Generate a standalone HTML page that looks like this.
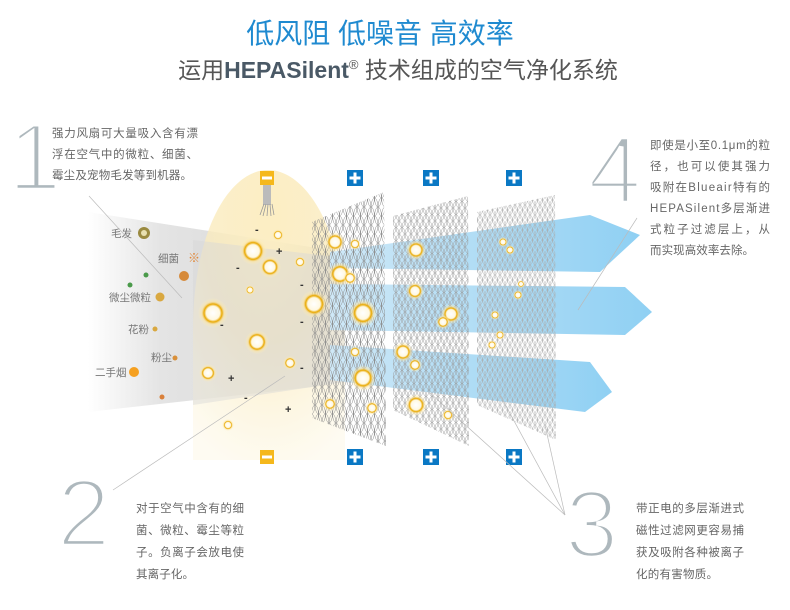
<!DOCTYPE html>
<html><head><meta charset="utf-8"><style>
body{margin:0;background:#fff;width:790px;height:610px;overflow:hidden}
svg{display:block}
.t{font-family:"Liberation Sans","Noto Sans CJK SC",sans-serif;fill:#666;font-size:11.5px}
.lb{font-family:"Liberation Sans","Noto Sans CJK SC",sans-serif;fill:#777;font-size:10.5px}
.n{font-family:"Liberation Sans",sans-serif;font-size:96px;fill:#aeb8bd;stroke:#fff;stroke-width:4.5px}
</style></head><body>
<svg width="790" height="610" viewBox="0 0 790 610" xmlns="http://www.w3.org/2000/svg">
<defs>
<linearGradient id="gb" x1="0" x2="1"><stop offset="0" stop-color="#fff"/><stop offset="0.3" stop-color="#e4e4e4"/><stop offset="1" stop-color="#d6d6d6"/></linearGradient>
<linearGradient id="bl" x1="0" x2="1"><stop offset="0" stop-color="#cfe8f7"/><stop offset="1" stop-color="#8fd0f3"/></linearGradient>
<radialGradient id="yl" cx="0.5" cy="0.15" r="0.9"><stop offset="0" stop-color="#fbe9b0"/><stop offset="0.5" stop-color="#f8e2a0" stop-opacity="0.7"/><stop offset="1" stop-color="#fdf5dc" stop-opacity="0.5"/></radialGradient>
<radialGradient id="pt"><stop offset="0" stop-color="#fff"/><stop offset="0.45" stop-color="#fff8e0"/><stop offset="0.6" stop-color="#e9a800"/><stop offset="0.75" stop-color="#fbe3a0" stop-opacity="0.6"/><stop offset="1" stop-color="#fff3c0" stop-opacity="0"/></radialGradient>
<pattern id="m1" width="7" height="18" patternUnits="userSpaceOnUse"><g fill="none" stroke="#8a8a8a" stroke-width="0.5"><ellipse cx="3.5" cy="9" rx="3.4" ry="8.9"/><ellipse cx="0" cy="0" rx="3.4" ry="8.9"/><ellipse cx="7" cy="0" rx="3.4" ry="8.9"/><ellipse cx="0" cy="18" rx="3.4" ry="8.9"/><ellipse cx="7" cy="18" rx="3.4" ry="8.9"/></g></pattern>
<pattern id="m2" width="6" height="13" patternUnits="userSpaceOnUse"><g fill="none" stroke="#9a9a9a" stroke-width="0.45"><ellipse cx="3" cy="6.5" rx="2.9" ry="6.4"/><ellipse cx="0" cy="0" rx="2.9" ry="6.4"/><ellipse cx="6" cy="0" rx="2.9" ry="6.4"/><ellipse cx="0" cy="13" rx="2.9" ry="6.4"/><ellipse cx="6" cy="13" rx="2.9" ry="6.4"/></g></pattern>
<pattern id="m3" width="5" height="10" patternUnits="userSpaceOnUse"><g fill="none" stroke="#aaa" stroke-width="0.4"><ellipse cx="2.5" cy="5" rx="2.4" ry="4.9"/><ellipse cx="0" cy="0" rx="2.4" ry="4.9"/><ellipse cx="5" cy="0" rx="2.4" ry="4.9"/><ellipse cx="0" cy="10" rx="2.4" ry="4.9"/><ellipse cx="5" cy="10" rx="2.4" ry="4.9"/></g></pattern>
<g id="pl"><rect x="-8" y="-8" width="16" height="16" fill="#0a78c4"/><rect x="-5.5" y="-1.5" width="11" height="3" fill="#fff"/><rect x="-1.5" y="-5.5" width="3" height="11" fill="#fff"/></g>
<g id="mn"><rect x="-7" y="-7" width="14" height="14" fill="#f5b81c"/><rect x="-5" y="-1.5" width="10" height="3" fill="#fff"/></g>
</defs>

<text x="380" y="43" text-anchor="middle" font-family="Liberation Sans,Noto Sans CJK SC,sans-serif" font-size="28" fill="#1f8ad0">低风阻 低噪音 高效率</text>
<text x="398" y="78" text-anchor="middle" font-family="Liberation Sans,Noto Sans CJK SC,sans-serif" font-size="23" fill="#555">运用<tspan font-weight="bold" fill="#4a5966">HEPASilent</tspan><tspan font-size="13" dy="-9">®</tspan><tspan dy="9"> 技术组成的空气净化系统</tspan></text>

<polygon points="88,212 330,250 330,385 88,412" fill="url(#gb)"/>
<path d="M193,460 L193,330 C193,230 230,170 268,170 C306,170 345,230 345,330 L345,460 Z" fill="url(#yl)"/>
<path d="M193,460 L193,330 C193,230 230,170 268,170 C306,170 345,230 345,330 L345,460 Z" fill="#fff" opacity="0.25"/>
<polygon points="193,240 345,258 345,382 193,405" fill="#d8d8d8" opacity="0.45"/>

<polygon points="330,252 590,215 640,235 600,272 330,268" fill="url(#bl)"/>
<polygon points="330,284 625,287 652,312 625,335 330,330" fill="url(#bl)"/>
<polygon points="330,345 590,362 612,392 585,412 330,380" fill="url(#bl)"/>

<polygon points="312,222 384,192 386,446 312,418" fill="url(#m1)"/>
<polygon points="393,216 468,196 469,446 393,410" fill="url(#m2)"/>
<polygon points="477,212 555,195 556,440 477,405" fill="url(#m3)"/>

<rect x="263" y="185" width="8" height="20" fill="#bbb"/>
<path d="M260,215 L264,204 M263,216 L266,204 M267,216 L268,204 M271,216 L270,204 M274,215 L272,204" stroke="#999" stroke-width="0.8"/>

<use href="#mn" x="267" y="178"/><use href="#mn" x="267" y="457"/>
<use href="#pl" x="355" y="178"/><use href="#pl" x="431" y="178"/><use href="#pl" x="514" y="178"/>
<use href="#pl" x="355" y="457"/><use href="#pl" x="431" y="457"/><use href="#pl" x="514" y="457"/>

<g fill="url(#pt)">
<circle cx="253" cy="251" r="14"/><circle cx="270" cy="267" r="11"/><circle cx="278" cy="235" r="6"/><circle cx="300" cy="262" r="6"/>
<circle cx="213" cy="313" r="15"/><circle cx="314" cy="304" r="14"/><circle cx="257" cy="342" r="12"/><circle cx="250" cy="290" r="5"/>
<circle cx="208" cy="373" r="9"/><circle cx="290" cy="363" r="7"/><circle cx="228" cy="425" r="6"/>
<circle cx="335" cy="242" r="10"/><circle cx="355" cy="244" r="6"/><circle cx="340" cy="274" r="12"/><circle cx="350" cy="278" r="7"/><circle cx="363" cy="313" r="14"/>
<circle cx="363" cy="378" r="13"/><circle cx="330" cy="404" r="7"/><circle cx="372" cy="408" r="7"/><circle cx="355" cy="352" r="6"/>
<circle cx="416" cy="250" r="10"/><circle cx="415" cy="291" r="9"/><circle cx="451" cy="314" r="10"/><circle cx="443" cy="322" r="7"/>
<circle cx="403" cy="352" r="10"/><circle cx="415" cy="365" r="7"/><circle cx="416" cy="405" r="11"/><circle cx="448" cy="415" r="6"/>
<circle cx="503" cy="242" r="5"/><circle cx="510" cy="250" r="5"/><circle cx="521" cy="284" r="4"/><circle cx="518" cy="295" r="5"/><circle cx="495" cy="315" r="5"/><circle cx="492" cy="345" r="5"/><circle cx="500" cy="335" r="5"/>
</g>
<g font-family="Liberation Sans,sans-serif" font-size="11" fill="#333" font-weight="bold">
<text x="255" y="233">-</text><text x="236" y="271">-</text><text x="300" y="288">-</text><text x="220" y="328">-</text><text x="300" y="325">-</text><text x="300" y="371">-</text><text x="244" y="401">-</text>
<text x="276" y="255">+</text><text x="228" y="382">+</text><text x="285" y="413">+</text>
</g>

<circle cx="144" cy="233" r="6" fill="#9a8a40"/><circle cx="144" cy="233" r="3" fill="#e8e0b0"/>
<text x="188" y="262" font-size="12" fill="#e0883a" font-family="Noto Sans CJK SC,sans-serif">※</text>
<circle cx="184" cy="276" r="5" fill="#d68a3a"/>
<circle cx="146" cy="275" r="2.5" fill="#4a9a4a"/><circle cx="130" cy="285" r="2.5" fill="#4a9a4a"/>
<circle cx="160" cy="297" r="4.5" fill="#d9a840"/><circle cx="155" cy="329" r="2.5" fill="#d9a840"/><circle cx="175" cy="358" r="2.5" fill="#d9903a"/>
<circle cx="134" cy="372" r="5" fill="#f5a020"/><circle cx="162" cy="397" r="2.5" fill="#d9803a"/>
<text class="lb" x="111" y="237">毛发</text><text class="lb" x="158" y="262">细菌</text><text class="lb" x="109" y="301">微尘微粒</text>
<text class="lb" x="128" y="333">花粉</text><text class="lb" x="151" y="361">粉尘</text><text class="lb" x="95" y="376">二手烟</text>

<g stroke="#bbb" stroke-width="0.7" fill="none">
<line x1="89" y1="196" x2="182" y2="298"/>
<line x1="637" y1="218" x2="578" y2="310"/>
<line x1="113" y1="490" x2="285" y2="376"/>
<line x1="565" y1="515" x2="430" y2="393"/><line x1="565" y1="515" x2="500" y2="395"/><line x1="565" y1="515" x2="545" y2="425"/>
</g>

<text class="n" x="8" y="190">1</text>
<text class="n" x="588" y="203">4</text>
<text class="n" x="57" y="546">2</text>
<text class="n" x="565" y="557">3</text>

<text class="t" x="52" y="137" textLength="146">强力风扇可大量吸入含有漂</text>
<text class="t" x="52" y="158" textLength="146">浮在空气中的微粒、细菌、</text>
<text class="t" x="52" y="179" textLength="140">霉尘及宠物毛发等到机器。</text>

<text class="t" x="650" y="149" textLength="120">即使是小至0.1μm的粒</text>
<text class="t" x="650" y="170" textLength="120">径，也可以使其强力</text>
<text class="t" x="650" y="191" textLength="120">吸附在Blueair特有的</text>
<text class="t" x="650" y="212" textLength="120">HEPASilent多层渐进</text>
<text class="t" x="650" y="233" textLength="120">式粒子过滤层上，从</text>
<text class="t" x="650" y="254" textLength="104">而实现高效率去除。</text>

<text class="t" x="136" y="512" textLength="108">对于空气中含有的细</text>
<text class="t" x="136" y="534" textLength="108">菌、微粒、霉尘等粒</text>
<text class="t" x="136" y="556" textLength="108">子。负离子会放电使</text>
<text class="t" x="136" y="578" textLength="58">其离子化。</text>

<text class="t" x="636" y="512" textLength="108">带正电的多层渐进式</text>
<text class="t" x="636" y="534" textLength="108">磁性过滤网更容易捕</text>
<text class="t" x="636" y="556" textLength="108">获及吸附各种被离子</text>
<text class="t" x="636" y="578" textLength="82">化的有害物质。</text>
</svg>
</body></html>
